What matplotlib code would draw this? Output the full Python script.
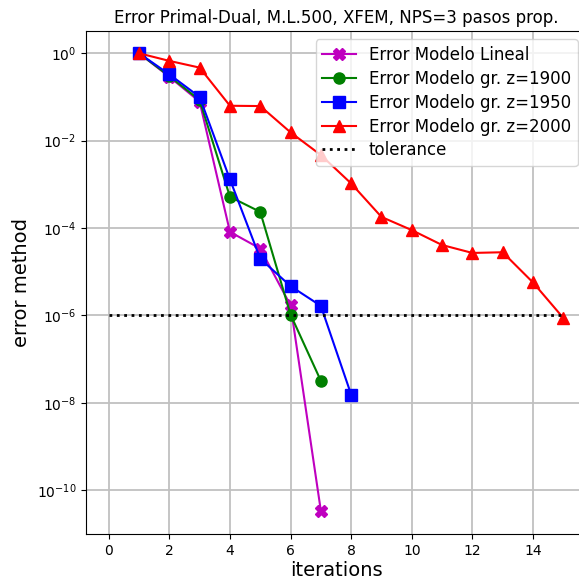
import matplotlib
matplotlib.use("Agg")
import matplotlib.pyplot as plt
from matplotlib.ticker import NullLocator

it_lin = [1, 2, 3, 4, 5, 6, 7]
err_lin = [1.0, 0.29, 0.078, 8.2e-5, 3.4e-5, 1.7e-6, 3.4e-11]

it_1900 = [1, 2, 3, 4, 5, 6, 7]
err_1900 = [1.0, 0.30, 0.085, 5.2e-4, 2.35e-4, 1.05e-6, 3.2e-8]

it_1950 = [1, 2, 3, 4, 5, 6, 7, 8]
err_1950 = [1.0, 0.33, 0.10, 1.3e-3, 2.0e-5, 4.7e-6, 1.66e-6, 1.55e-8]

it_2000 = [1, 2, 3, 4, 5, 6, 7, 8, 9, 10, 11, 12, 13, 14, 15]
err_2000 = [1.0, 0.67, 0.47, 0.063, 0.062, 0.0155, 4.7e-3, 1.05e-3, 1.8e-4,
            9.0e-5, 4.1e-5, 2.7e-5, 2.8e-5, 5.7e-6, 8.8e-7]

tol_x = [0, 15]
tol_y = [1e-6, 1e-6]

labels = ["Error Modelo Lineal", "Error Modelo gr. z=1900",
          "Error Modelo gr. z=1950", "Error Modelo gr. z=2000", "tolerance"]

fig = plt.figure(figsize=(5.79, 5.88), dpi=100)
ax = fig.add_axes([86/579, 54/588, 500/579, 503/588])

ax.plot(it_lin, err_lin, color='m', marker='X', markersize=8, linewidth=1.5, label=labels[0])
ax.plot(it_1900, err_1900, color='g', marker='o', markersize=8, linewidth=1.5, label=labels[1])
ax.plot(it_1950, err_1950, color='b', marker='s', markersize=8, linewidth=1.5, label=labels[2])
ax.plot(it_2000, err_2000, color='r', marker='^', markersize=8, linewidth=1.5, label=labels[3])
ax.plot(tol_x, tol_y, 'k:', linewidth=2, label=labels[4])

ax.set_yscale('log')
ax.set_xlim(-0.75, 15.75)
ax.set_ylim(10**-11.0, 10**0.51)
ax.set_yticks([1e0, 1e-2, 1e-4, 1e-6, 1e-8, 1e-10])
ax.yaxis.set_minor_locator(NullLocator())
ax.set_xticks([0, 2, 4, 6, 8, 10, 12, 14])
ax.tick_params(labelsize=10)
ax.grid(True, color='#c0c0c0', linewidth=1.3)
ax.set_axisbelow(True)

ax.set_title("Error Primal-Dual, M.L.500, XFEM, NPS=3 pasos prop.", fontsize=12, pad=6)
ax.set_xlabel("iterations", fontsize=14, labelpad=2)
ax.set_ylabel("error method", fontsize=14)
ax.legend(loc='upper right', fontsize=12, borderaxespad=0.5, labelspacing=0.35)

fig.savefig("out.png", dpi=100)
